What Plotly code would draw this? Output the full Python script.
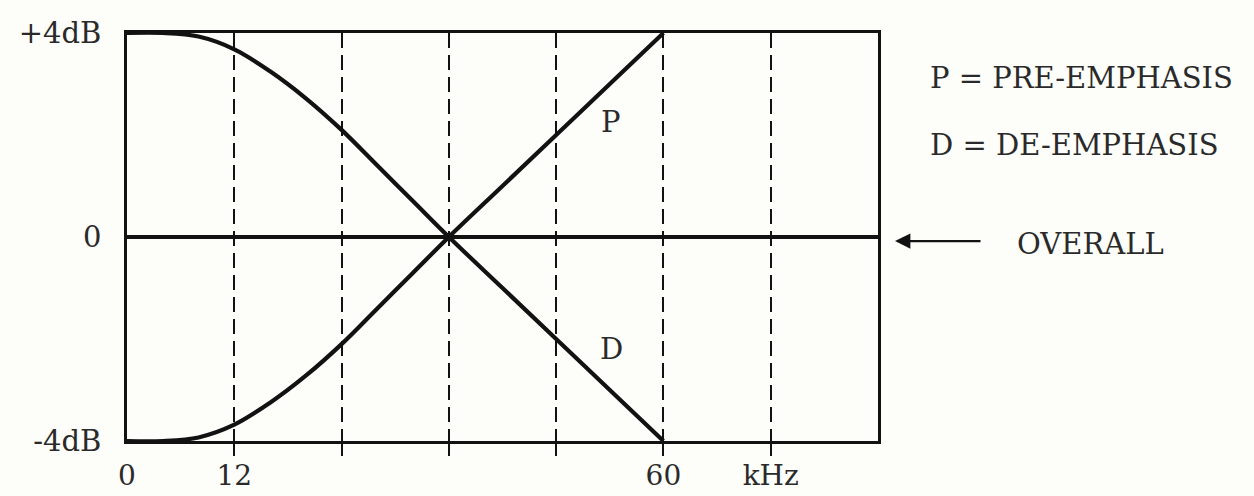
import plotly.graph_objects as go

# Frequency points (kHz) and level (dB) of the pre-emphasis curve
freq_khz = [0, 4, 8, 12, 16, 20, 24, 28, 32, 36, 42, 48, 54, 60]
pre_emphasis_db = [-4.0, -4.0, -3.93, -3.68, -3.25, -2.72, -2.1, -1.4, -0.7, 0.0, 1.0, 2.0, 3.0, 4.0]
de_emphasis_db = [-v for v in pre_emphasis_db]

# Overall response is flat across the band
overall_freq = [0, 84]
overall_db = [0, 0]

x_tick_vals = [0, 12, 60, 72]
x_tick_text = ["0", "12", "60", "kHz"]
grid_vals = [12, 24, 36, 48, 60, 72]
y_tick_vals = [-4, 0, 4]
y_tick_text = ["-4dB", "0", "+4dB"]

FONT = "DejaVu Serif, serif"
FS = 29
INK = "#121212"
TEXT = "#2a2a2a"
BG = "#fdfdfa"

fig = go.Figure()

fig.add_trace(go.Scatter(x=overall_freq, y=overall_db, mode="lines",
                         line=dict(color=INK, width=4), hoverinfo="skip"))
fig.add_trace(go.Scatter(x=freq_khz, y=pre_emphasis_db, mode="lines",
                         line=dict(color=INK, width=4.2, shape="spline", smoothing=1),
                         name="P"))
fig.add_trace(go.Scatter(x=freq_khz, y=de_emphasis_db, mode="lines",
                         line=dict(color=INK, width=4.2, shape="spline", smoothing=1),
                         name="D"))
# invisible trace to activate the overlay axis carrying the dashed grid
fig.add_trace(go.Scatter(x=[0, 84], y=[0, 0], xaxis="x2", mode="lines",
                         line=dict(width=0), hoverinfo="skip"))

fig.update_layout(
    width=1254, height=496,
    margin=dict(l=127, r=376, t=33, b=55),
    paper_bgcolor=BG, plot_bgcolor=BG,
    showlegend=False,
    font=dict(family=FONT, size=FS, color=TEXT),
    xaxis=dict(range=[0, 84], tickvals=x_tick_vals, ticktext=x_tick_text,
               ticks="", showgrid=False, zeroline=False, automargin=False,
               showline=True, linecolor=INK, linewidth=2.6, mirror=True,
               ticklabelstandoff=8, tickfont=dict(family=FONT, size=28, color=TEXT)),
    xaxis2=dict(range=[0, 84], overlaying="x", anchor="y", side="bottom",
                tickvals=grid_vals, showticklabels=False, automargin=False,
                ticks="outside", ticklen=14, tickwidth=1.8, tickcolor=INK,
                showgrid=True, gridcolor=INK, gridwidth=1.8, griddash="15px,7px",
                zeroline=False, showline=False, layer="below traces"),
    yaxis=dict(range=[-4, 4], tickvals=y_tick_vals, ticktext=y_tick_text,
               ticks="", showgrid=False, zeroline=False, automargin=False,
               showline=True, linecolor=INK, linewidth=2.6, mirror=True,
               ticklabelstandoff=17, tickfont=dict(family=FONT, size=FS, color=TEXT)),
)

# curve labels
fig.add_annotation(x=54.1, y=2.25, text="P", showarrow=False,
                   font=dict(family=FONT, size=FS, color=TEXT))
fig.add_annotation(x=54.2, y=-2.2, text="D", showarrow=False,
                   font=dict(family=FONT, size=FS, color=TEXT))

# key text at the right of the chart
fig.add_annotation(xref="paper", yref="paper", x=(928 - 127) / 751, y=(441 - 78) / 408,
                   xanchor="left", yanchor="middle", text="P = PRE-EMPHASIS",
                   showarrow=False, font=dict(family=FONT, size=FS, color=TEXT))
fig.add_annotation(xref="paper", yref="paper", x=(928 - 127) / 751, y=(441 - 145) / 408,
                   xanchor="left", yanchor="middle", text="D = DE-EMPHASIS",
                   showarrow=False, font=dict(family=FONT, size=FS, color=TEXT))

# arrow pointing at the flat overall line
fig.add_annotation(xref="paper", yref="y", x=(895 - 127) / 751, y=-0.08,
                   ax=87, ay=0, text="", showarrow=True,
                   arrowhead=2, arrowsize=1.4, arrowwidth=2.2, arrowcolor=INK)
fig.add_annotation(xref="paper", yref="y", x=(1015 - 127) / 751, y=-0.14,
                   xanchor="left", yanchor="middle", text="OVERALL",
                   showarrow=False, font=dict(family=FONT, size=FS, color=TEXT))

fig.write_html("out.html")
